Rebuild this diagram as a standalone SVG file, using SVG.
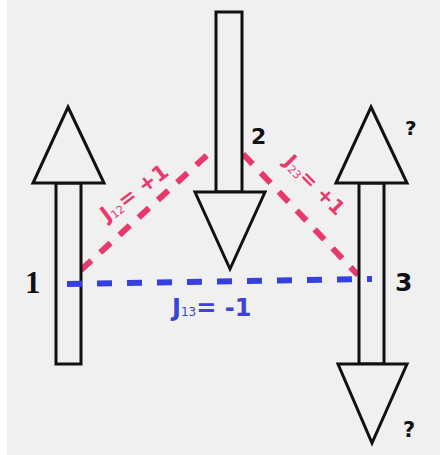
<svg xmlns="http://www.w3.org/2000/svg" width="440" height="455" viewBox="0 0 440 455">
<style>
.arrow{fill:#f0f0f0;stroke:#111;stroke-width:3;stroke-linejoin:miter}
.lbl{font-family:"DejaVu Sans","Liberation Sans",sans-serif;font-weight:bold;fill:#111}
.serif{font-family:"Liberation Serif","DejaVu Serif",serif;font-weight:bold;fill:#111}
.pink{stroke:#e8386c;stroke-width:6;stroke-dasharray:14 12;fill:none}
.blue{stroke:#3640e0;stroke-width:6;stroke-dasharray:15 15;fill:none}
.jp{font-family:"DejaVu Sans","Liberation Sans",sans-serif;font-weight:bold;fill:#e8386c}
.jb{font-family:"DejaVu Sans","Liberation Sans",sans-serif;font-weight:bold;fill:#3a44d8}
</style>
<rect x="7" y="0" width="433" height="455" fill="#f0f0f0"/>
<g id="connectors-pink">
<line class="pink" x1="81" y1="270" x2="215" y2="148"/>
<line class="pink" x1="243" y1="154" x2="358" y2="275"/>
</g>
<g id="spin1">
<rect class="arrow" x="56" y="183" width="25" height="181"/>
<polygon class="arrow" points="68,107 104,183 33,183"/>
<text class="serif" x="25" y="293" font-size="31">1</text>
</g>
<g id="spin2">
<rect class="arrow" x="216" y="12" width="26" height="180"/>
<polygon class="arrow" points="195,192 265,192 230,269"/>
<text class="lbl" x="251" y="144" font-size="22">2</text>
</g>
<g id="spin3">
<rect class="arrow" x="359" y="183" width="25" height="181"/>
<polygon class="arrow" points="371,107 407,183 336,183"/>
<polygon class="arrow" points="338,364 407,364 372,443"/>
<text class="lbl" x="395" y="291" font-size="25">3</text>
<text class="lbl" x="405" y="135" font-size="20">?</text>
<text class="lbl" x="403" y="437" font-size="21">?</text>
</g>
<g id="connectors">
<line class="blue" x1="67" y1="284" x2="372" y2="279"/>
</g>
<g id="labels">
<text class="jp" transform="translate(107,222) rotate(-37)" font-size="21">J<tspan font-size="11" font-weight="normal" dy="2">12</tspan><tspan dy="-2">= +1</tspan></text>
<text class="jp" transform="translate(283,163) rotate(45)" font-size="20">J<tspan font-size="11" font-weight="normal" dy="2">23</tspan><tspan dy="-2">= +1</tspan></text>
<text class="jb" x="172" y="316" font-size="24">J<tspan font-size="12" font-weight="normal">13</tspan>= -1</text>
</g>
</svg>
